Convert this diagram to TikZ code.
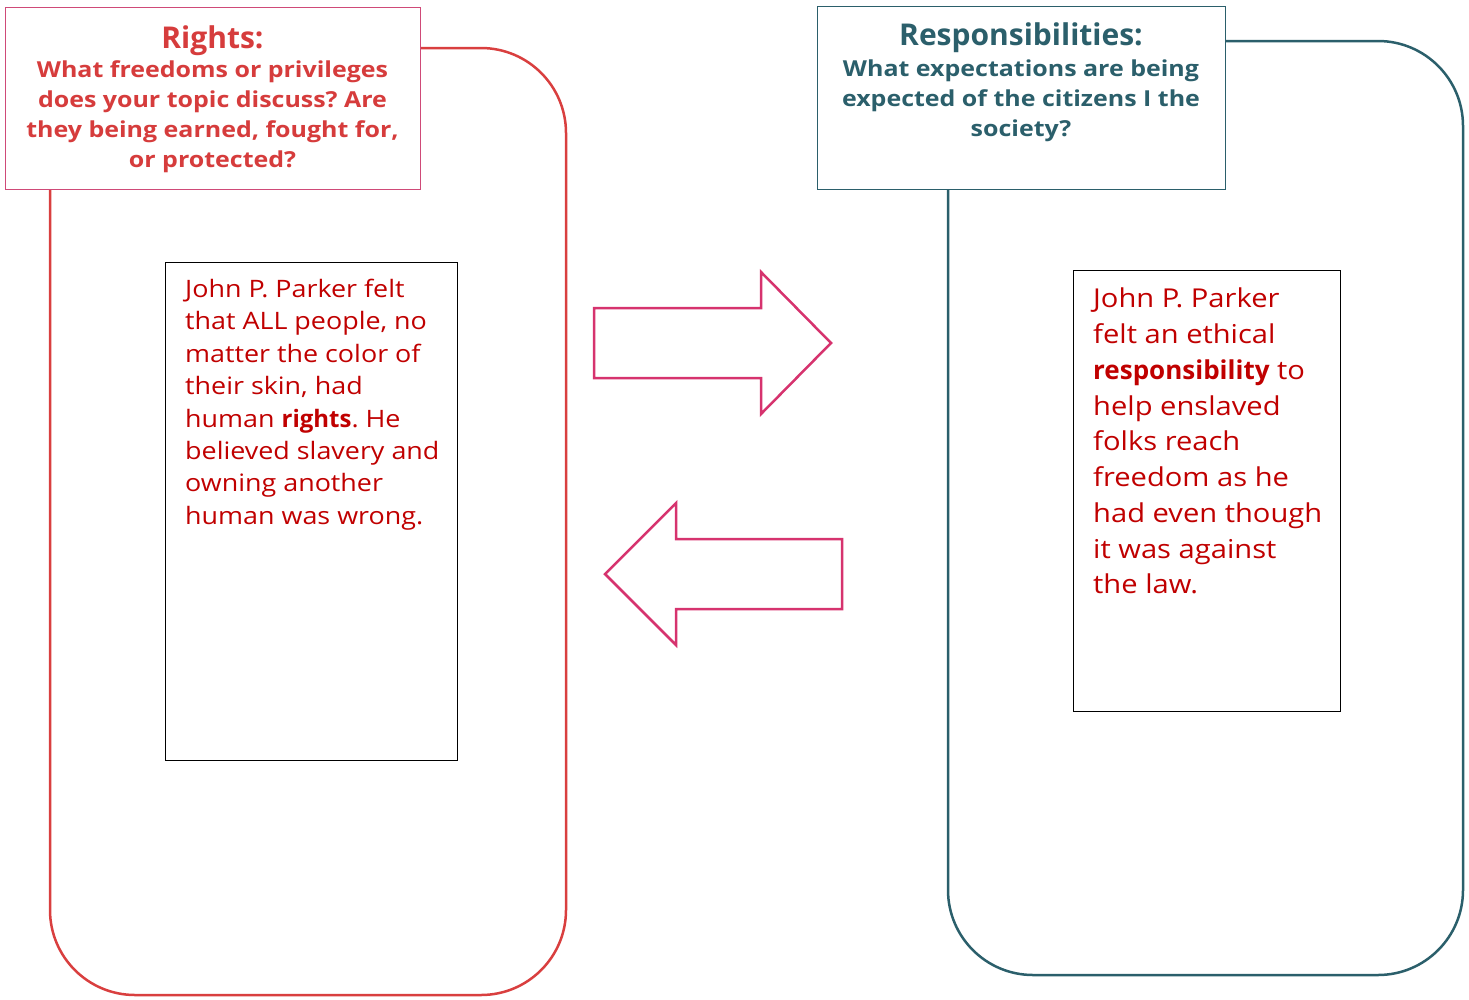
\documentclass[tikz,border=0pt]{standalone}
\usepackage{fontspec}
\setmainfont{Open Sans}
\newfontfamily\bodyfont[FakeStretch=1.12]{Open Sans}
\newfontfamily\subfont[FakeStretch=1.135]{Open Sans}
\newfontfamily\plainfont{Open Sans}
\newcommand{\keyword}[1]{{\plainfont\bfseries #1}}
\frenchspacing
\definecolor{rframe}{HTML}{D93F3F}
\definecolor{rhead}{HTML}{D63C3C}
\definecolor{rborder}{HTML}{CF4A78}
\definecolor{tframe}{HTML}{2B5F6B}
\definecolor{body}{HTML}{C00000}
\definecolor{arrowc}{HTML}{D6336E}
\tikzset{
  frame/.style={line width=2.5pt, rounded corners=85pt},
  hdrbox/.style={draw, fill=white, line width=1.3pt, inner sep=0pt, anchor=north west},
  txtbox/.style={draw=black, line width=1.2pt, inner sep=0pt, anchor=north west},
  hdrtext/.style={align=center, inner sep=0pt, anchor=north, font=\frenchspacing\subfont\bfseries\fontsize{22}{30}\selectfont},
  bodytext/.style={align=left, inner sep=0pt, anchor=north west, text=body},
  arrowshape/.style={draw=arrowc, line width=2.5pt, line join=miter}
}
\begin{document}
\begin{tikzpicture}[x=1pt,y=-1pt]
\useasboundingbox (0,0) rectangle (1469,999);
% left frame
\draw[frame, draw=rframe] (50,48) rectangle (566,995);
\node[hdrbox, draw=rborder, minimum width=415pt, minimum height=182pt] (lhead) at (5,7) {};
\node[hdrtext, text=rhead] (ltitle) at (212.5,26)
  {{\normalfont\bfseries\fontsize{30}{30}\selectfont Rights:}\\[-1pt]
   What freedoms or privileges\\
   does your topic discuss? Are\\
   they being earned, fought for,\\
   or protected?};
\node[txtbox, minimum width=292pt, minimum height=498pt] (lbox) at (165,262) {};
\node[bodytext, font=\frenchspacing\bodyfont\fontsize{24}{32.4}\selectfont] (ltext) at (185,279)
  {John P. Parker felt\\
   that ALL people, no\\
   matter the color of\\
   their skin, had\\
   human \keyword{rights}. He\\
   believed slavery and\\
   owning another\\
   human was wrong.};
% right frame
\draw[frame, draw=tframe] (948,41) rectangle (1463,975);
\node[hdrbox, draw=tframe, minimum width=408pt, minimum height=183pt] (rhead) at (817,6) {};
\node[hdrtext, text=tframe] (rtitle) at (1021,23)
  {{\normalfont\bfseries\fontsize{30}{30}\selectfont Responsibilities:}\\[1pt]
   What expectations are being\\
   expected of the citizens I the\\
   society?};
\node[txtbox, minimum width=267pt, minimum height=441pt] (rbox) at (1073,270) {};
\node[bodytext, font=\frenchspacing\bodyfont\fontsize{26}{35.75}\selectfont] (rtext) at (1093,288)
  {John P. Parker\\
   felt an ethical\\
   \keyword{responsibility} to\\
   help enslaved\\
   folks reach\\
   freedom as he\\
   had even though\\
   it was against\\
   the law.};
% arrows
\draw[arrowshape] (594,308) -- (761,308) -- (761,272) -- (831,343) -- (761,414) -- (761,378) -- (594,378) -- cycle;
\draw[arrowshape] (842,539) -- (676,539) -- (676,503) -- (605,574) -- (676,645) -- (676,609) -- (842,609) -- cycle;
\end{tikzpicture}
\end{document}
